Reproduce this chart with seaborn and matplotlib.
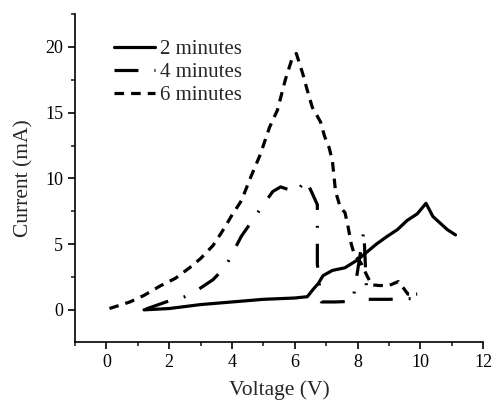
import numpy as np
import pandas as pd
import seaborn as sns
import matplotlib.pyplot as plt
from matplotlib.ticker import MultipleLocator

# 2 minutes (solid)
v_2min = [1.2, 2.0, 3.0, 4.0, 5.0, 6.0, 6.4, 6.6, 6.75, 6.9, 7.2, 7.6, 8.0, 8.3, 8.6,
          8.95, 9.27, 9.58, 9.9, 10.18, 10.4, 10.86, 11.12]
i_2min = [0.0, 0.1, 0.4, 0.6, 0.8, 0.9, 1.0, 1.6, 2.0, 2.6, 3.0, 3.2, 3.8, 4.4, 5.0,
          5.6, 6.1, 6.8, 7.3, 8.1, 7.1, 6.1, 5.7]

# 4 minutes (dash-dot)
v_4min = [1.25, 1.9, 2.5, 2.9, 3.4, 3.8, 4.3, 5.0, 5.3, 5.55, 6.05, 6.35, 6.55, 6.72,
          6.72, 6.82, 6.85, 7.3, 7.85, 8.2, 8.3, 8.5, 9.0, 9.6, 10.0]
i_4min = [0.05, 0.6, 1.0, 1.5, 2.3, 3.3, 5.6, 8.0, 9.0, 9.35, 8.95, 9.9, 8.9, 8.0,
          3.5, 1.0, 0.6, 0.6, 0.65, 6.0, 0.8, 0.8, 0.8, 0.85, 0.85]

# 6 minutes (short dash)
v_6min = [0.1, 0.75, 1.2, 1.7, 2.2, 2.65, 3.0, 3.4, 3.7, 4.0, 4.3, 4.6, 4.9, 5.2,
          5.45, 5.7, 5.9, 6.05, 6.25, 6.4, 6.56, 6.82, 6.95, 7.1, 7.2, 7.3, 7.45,
          7.6, 7.7, 7.8, 7.9, 8.1, 8.3, 8.45, 8.7, 9.0, 9.3, 9.45, 9.6, 9.9]
i_6min = [0.1, 0.6, 1.1, 1.8, 2.4, 3.2, 3.9, 4.9, 6.0, 7.2, 8.3, 10.1, 11.8, 13.9,
          15.2, 17.5, 19.0, 19.5, 18.0, 16.7, 15.4, 14.3, 13.2, 12.3, 11.3, 9.0, 7.8,
          7.4, 6.3, 5.0, 4.2, 3.6, 2.6, 1.9, 1.85, 1.85, 2.15, 1.7, 1.2, 1.2]

sns.set_style("ticks")
plt.rcParams['font.family'] = ['Liberation Serif', 'DejaVu Serif']

fig = plt.figure(figsize=(4.93, 4.01), dpi=100)
ax = fig.add_axes([0.152, 0.147, 0.828, 0.818])

lw = 2.3
series = [
    ("2 minutes", v_2min, i_2min, None),
    ("4 minutes", v_4min, i_4min, (7.5, 5, 0.6, 5)),
    ("6 minutes", v_6min, i_6min, (3, 2.2)),
]
for name, v, c, dash in series:
    df = pd.DataFrame({"Voltage": v, "Current": c})
    sns.lineplot(data=df, x="Voltage", y="Current", sort=False, estimator=None,
                 color="black", lw=lw, ax=ax, label=name)
    if dash is not None:
        ax.lines[-1].set_dashes(dash)

ax.set_xlim(-1, 12)
ax.set_ylim(-2.45, 22.5)
ax.xaxis.set_major_locator(MultipleLocator(2))
ax.xaxis.set_minor_locator(MultipleLocator(1))
ax.yaxis.set_major_locator(MultipleLocator(5))
ax.yaxis.set_minor_locator(MultipleLocator(2.5))
ax.tick_params(which='major', direction='out', length=5, width=1.2, labelsize=13,
               colors='black')
ax.tick_params(which='minor', direction='out', length=3, width=1.2)
for s in ['left', 'bottom']:
    ax.spines[s].set_linewidth(1.2)
    ax.spines[s].set_color('black')
sns.despine(ax=ax)

ax.set_xlabel("Voltage (V)", fontsize=15.5, labelpad=7)
ax.set_ylabel("Current (mA)", fontsize=15.5, labelpad=8)

leg = ax.legend(loc="upper left", bbox_to_anchor=(0.05, 0.98), frameon=False,
                fontsize=15, handlelength=1.95, handletextpad=0.25, labelspacing=0.17)
for h in leg.get_lines():
    h.set_linewidth(lw)

fig.savefig("out.png", dpi=100)
